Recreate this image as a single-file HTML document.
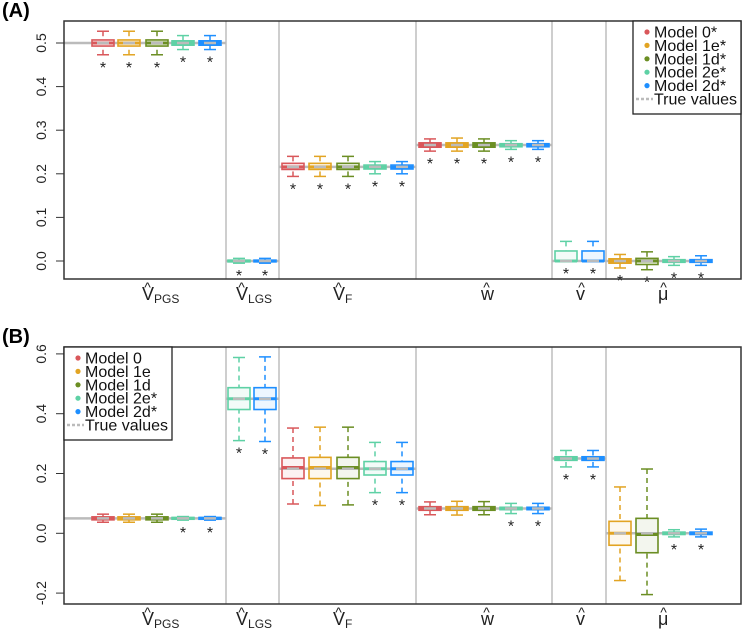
<!DOCTYPE html>
<html><head><meta charset="utf-8"><style>
html,body{margin:0;padding:0;background:#fff;}
svg{display:block;font-family:"Liberation Sans",sans-serif;}
</style></head><body>
<svg id="s" width="743" height="630" viewBox="0 0 743 630" xmlns="http://www.w3.org/2000/svg"></svg>
<script>
const C={r:"#D9575A",o:"#E2A423",g:"#6B8E23",t:"#5ED1A5",b:"#1E8FFF"};
let h='';
function panel(top,bot,v0,y0,per,ticks,groups,label){
  const Y=v=>y0-(v-v0)*per/0.1;
  h+=`<text x="2" y="${top-4}" font-size="20" font-weight="bold">${label}</text>`;
  [226,279,416,552,606].forEach(x=>h+=`<line x1="${x}" y1="${top}" x2="${x}" y2="${bot}" stroke="#bdbdbd" stroke-width="1.5"/>`);
  ticks.forEach(t=>{const y=Y(t);h+=`<line x1="56" y1="${y}" x2="64" y2="${y}" stroke="#333" stroke-width="1"/><text transform="translate(46,${y}) rotate(-90)" text-anchor="middle" font-size="14" fill="#222">${t.toFixed(1)}</text>`;});
  groups.forEach(g=>{
    h+=`<line x1="${g.x0}" y1="${Y(g.tv)}" x2="${g.x1}" y2="${Y(g.tv)}" stroke="#bbb" stroke-width="2.5"/>`;
    g.b.forEach(b=>{
      const [x,c,wl,q1,md,q3,wh,st]=b;const w=11;
      const yq1=Y(q1),yq3=Y(q3);
      h+=`<line x1="${x}" y1="${Y(wh)}" x2="${x}" y2="${yq3}" stroke="${c}" stroke-width="1.5" stroke-dasharray="5,4"/>`;
      h+=`<line x1="${x}" y1="${Y(wl)}" x2="${x}" y2="${yq1}" stroke="${c}" stroke-width="1.5" stroke-dasharray="5,4"/>`;
      h+=`<line x1="${x-6}" y1="${Y(wh)}" x2="${x+6}" y2="${Y(wh)}" stroke="${c}" stroke-width="1.5"/>`;
      h+=`<line x1="${x-6}" y1="${Y(wl)}" x2="${x+6}" y2="${Y(wl)}" stroke="${c}" stroke-width="1.5"/>`;
      h+=`<rect x="${x-w}" y="${yq3}" width="${2*w}" height="${Math.max(yq1-yq3,1)}" fill="${c}" fill-opacity="0.08" stroke="${c}" stroke-width="1.6"/>`;
      h+=`<line x1="${x-w}" y1="${Y(md)}" x2="${x+w}" y2="${Y(md)}" stroke="${c}" stroke-width="3"/>`;
      h+=`<line x1="${x-6}" y1="${Y(g.tv)}" x2="${x+6}" y2="${Y(g.tv)}" stroke="#bbb" stroke-width="2.5"/>`;
      if(st)h+=`<text x="${x}" y="${Y(wl)+18}" text-anchor="middle" font-size="16" fill="#222">*</text>`;
    });
  });
  h+=`<rect x="64" y="${top}" width="677" height="${bot-top}" fill="none" stroke="#333" stroke-width="1.5"/>`;
  const lab=[[142,"V","PGS"],[236,"V","LGS"],[333,"V","F"],[481,"w",""],[576,"v",""],[658,"μ",""]];
  const by=bot+21;
  lab.forEach(([x,s,sub])=>{
    h+=`<text x="${x}" y="${by}" font-size="18" text-anchor="start" fill="#222">${s}<tspan font-size="12" dy="3">${sub}</tspan></text>`;
    h+=`<text x="${x+5.5}" y="${by-8}" font-size="14" text-anchor="middle" fill="#222">^</text>`;
  });
}
function legend(x,y,star){
  h+=`<rect x="${x}" y="${y}" width="108" height="93" fill="#fff" stroke="#222" stroke-width="1.3"/>`;
  const n=[["r","Model 0"],["o","Model 1e"],["g","Model 1d"],["t","Model 2e*"],["b","Model 2d*"]];
  n.forEach((e,i)=>{const cy=y+11+i*13.4;
    h+=`<circle cx="${x+14}" cy="${cy}" r="2.6" fill="${C[e[0]]}"/><text x="${x+21}" y="${cy+5.5}" font-size="16" fill="#111">${e[1]+(star&&i<3?"*":"")}</text>`;});
  const cy=y+11+5*13.4;
  h+=`<line x1="${x+3}" y1="${cy}" x2="${x+20}" y2="${cy}" stroke="#bbb" stroke-width="2.5" stroke-dasharray="3,2"/><text x="${x+21}" y="${cy+5.5}" font-size="16" fill="#111">True values</text>`;
}
const A=[
 {x0:64,x1:226,tv:0.5,b:[[103,C.r,0.473,0.493,0.5,0.507,0.527,1],[129,C.o,0.473,0.493,0.5,0.507,0.527,1],[157,C.g,0.473,0.493,0.5,0.507,0.527,1],[183,C.t,0.485,0.495,0.5,0.505,0.517,1],[210,C.b,0.485,0.495,0.5,0.505,0.517,1]]},
 {x0:226,x1:279,tv:0,b:[[239,C.t,-0.005,-0.002,0,0.002,0.006,1],[265,C.b,-0.005,-0.002,0,0.002,0.006,1]]},
 {x0:279,x1:416,tv:0.216,b:[[293,C.r,0.194,0.21,0.216,0.224,0.24,1],[320,C.o,0.194,0.21,0.216,0.224,0.24,1],[348,C.g,0.194,0.21,0.216,0.224,0.24,1],[375,C.t,0.2,0.211,0.215,0.22,0.228,1],[402,C.b,0.2,0.211,0.215,0.22,0.228,1]]},
 {x0:416,x1:552,tv:0.266,b:[[430,C.r,0.252,0.261,0.266,0.271,0.28,1],[457,C.o,0.252,0.261,0.266,0.271,0.282,1],[484,C.g,0.252,0.261,0.266,0.271,0.28,1],[511,C.t,0.256,0.262,0.266,0.269,0.276,1],[538,C.b,0.256,0.262,0.266,0.269,0.276,1]]},
 {x0:552,x1:606,tv:0,b:[[566,C.t,0,0,0,0.023,0.045,1],[593,C.b,0,0,0,0.023,0.045,1]]},
 {x0:606,x1:710,tv:0,b:[[620,C.o,-0.016,-0.005,0,0.005,0.015,1],[647,C.g,-0.02,-0.008,0,0.006,0.021,1],[674,C.t,-0.01,-0.003,0,0.003,0.01,1],[701,C.b,-0.01,-0.003,0,0.003,0.012,1]]}
];
panel(21,279,0,261,43.6,[0,0.1,0.2,0.3,0.4,0.5],A,"(A)");
legend(633,21,true);
const B=[
 {x0:64,x1:226,tv:0.05,b:[[103,C.r,0.037,0.045,0.05,0.055,0.064,0],[129,C.o,0.037,0.045,0.05,0.055,0.064,0],[157,C.g,0.037,0.045,0.05,0.055,0.064,0],[183,C.t,0.044,0.047,0.05,0.053,0.056,1],[210,C.b,0.044,0.047,0.05,0.053,0.056,1]]},
 {x0:226,x1:279,tv:0.45,b:[[239,C.t,0.31,0.414,0.45,0.487,0.588,1],[265,C.b,0.307,0.414,0.45,0.487,0.59,1]]},
 {x0:279,x1:416,tv:0.216,b:[[293,C.r,0.098,0.183,0.22,0.252,0.352,0],[320,C.o,0.093,0.183,0.22,0.254,0.355,0],[348,C.g,0.095,0.183,0.22,0.254,0.355,0],[375,C.t,0.136,0.195,0.216,0.24,0.304,1],[402,C.b,0.136,0.195,0.216,0.24,0.304,1]]},
 {x0:416,x1:552,tv:0.083,b:[[430,C.r,0.062,0.077,0.083,0.089,0.105,0],[457,C.o,0.061,0.077,0.083,0.089,0.107,0],[484,C.g,0.062,0.077,0.083,0.089,0.106,0],[511,C.t,0.066,0.079,0.083,0.087,0.1,1],[538,C.b,0.066,0.079,0.083,0.087,0.1,1]]},
 {x0:552,x1:606,tv:0.25,b:[[566,C.t,0.222,0.244,0.25,0.256,0.277,1],[593,C.b,0.222,0.244,0.25,0.256,0.277,1]]},
 {x0:606,x1:710,tv:0,b:[[620,C.o,-0.158,-0.04,0,0.04,0.155,0],[647,C.g,-0.205,-0.065,-0.004,0.05,0.215,0],[674,C.t,-0.012,-0.004,0,0.004,0.012,1],[701,C.b,-0.012,-0.004,0,0.004,0.014,1]]}
];
panel(347,604,0,533.3,29.9,[-0.2,0,0.2,0.4,0.6],B,"(B)");
legend(64,347,false);
document.getElementById('s').innerHTML=h;
</script>
</body></html>
